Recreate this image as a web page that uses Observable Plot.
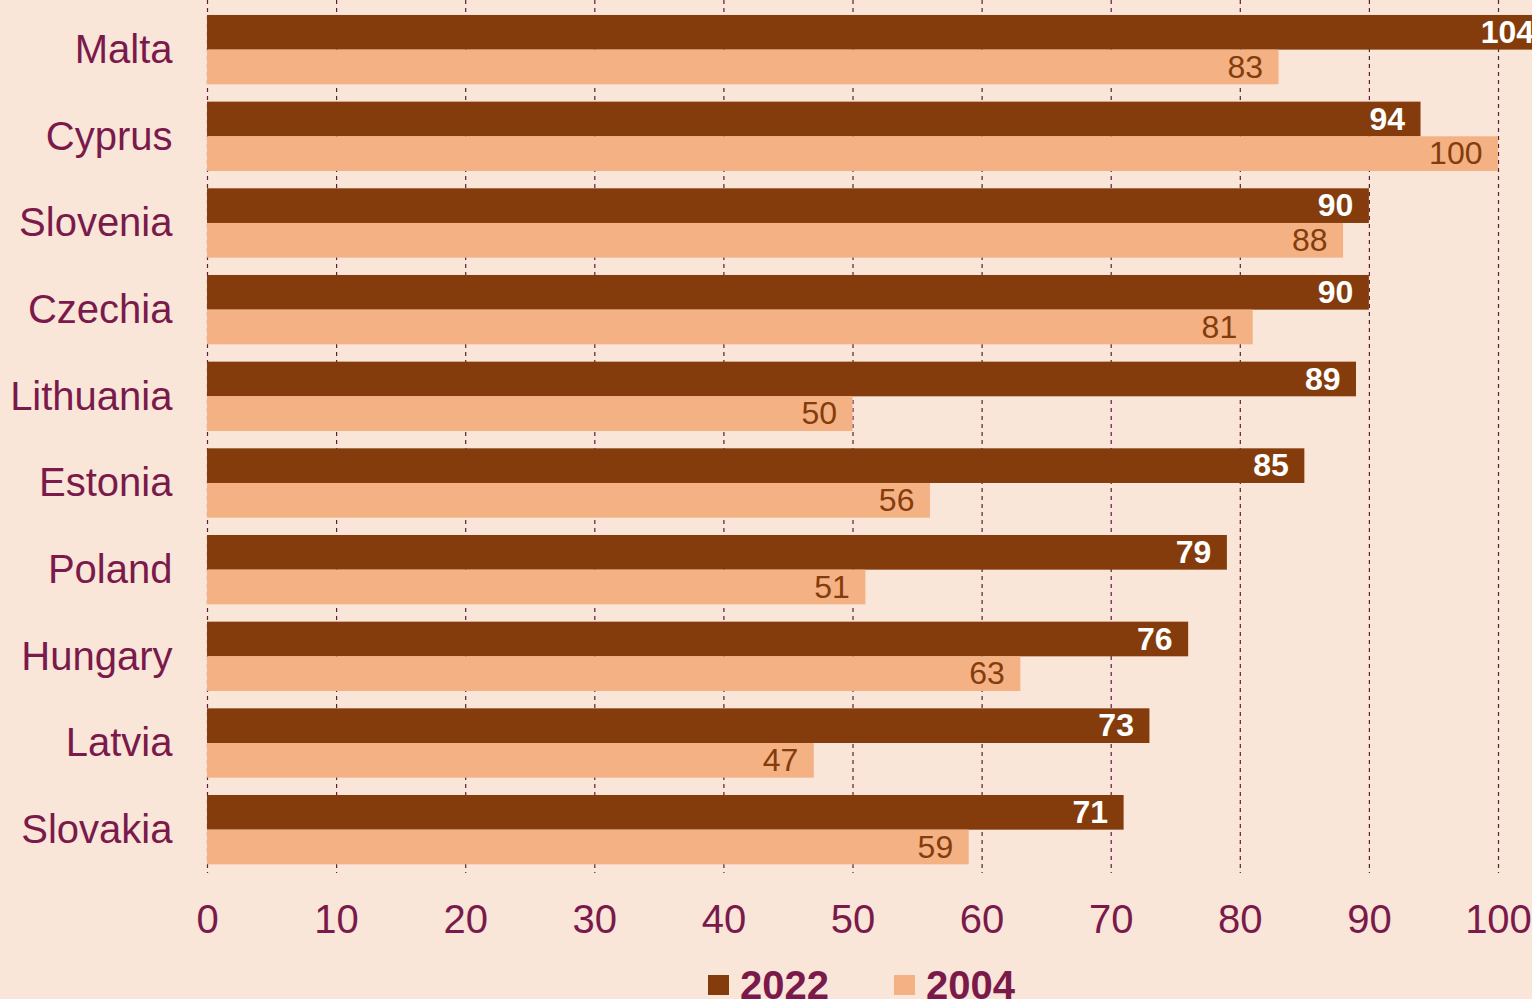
<!DOCTYPE html>
<html>
<head>
<meta charset="utf-8">
<script src="https://cdn.jsdelivr.net/npm/d3@7"></script>
<script src="https://cdn.jsdelivr.net/npm/@observablehq/plot@0.6"></script>
<style>
  html, body { margin: 0; padding: 0; background: #fae5d9; overflow: hidden; width: 1532px; height: 999px; }
  #legend { display: flex; align-items: center; margin-top: 5px; padding-left: 708px; height: 40px;
    font-family: "Liberation Sans", Arial, sans-serif; font-weight: bold; font-size: 40px; line-height: 40px; color: #7a1a4b; }
  #legend .sw { width: 21px; height: 20px; margin-right: 11px; }
  #legend .item { display: flex; align-items: center; margin-right: 65px; }
</style>
</head>
<body>
<div id="chart"></div>
<div id="legend"></div>
<script>
const countries = ["Malta","Cyprus","Slovenia","Czechia","Lithuania","Estonia","Poland","Hungary","Latvia","Slovakia"];
const values2022 = [104, 94, 90, 90, 89, 85, 79, 76, 73, 71];
const values2004 = [83, 100, 88, 81, 50, 56, 51, 63, 47, 59];
const xTicks = [0,10,20,30,40,50,60,70,80,90,100];
const seriesNames = ["2022", "2004"];
const seriesColors = ["#843c0c", "#f4b183"];

const d2022 = countries.map((c, i) => ({country: c, value: values2022[i]}));
const d2004 = countries.map((c, i) => ({country: c, value: values2004[i]}));

const H = 960;
const yRange = [6.3, 873];
const step = (yRange[1] - yRange[0]) / 10;
const bw = step * 0.8;
const half = bw / 2;

const chart = Plot.plot({
  width: 1532,
  height: H,
  marginLeft: 207,
  marginRight: 34,
  marginTop: 0,
  marginBottom: H - yRange[1],
  style: {background: "transparent", color: "#7a1a4b", fontFamily: "'Liberation Sans', Arial, sans-serif"},
  x: {domain: [0, 100], ticks: xTicks},
  y: {domain: countries, range: yRange, paddingInner: 0.2, paddingOuter: 0.1, round: false},
  marks: [
    Plot.gridX(xTicks, {stroke: "#5a1f3a", strokeOpacity: 1, strokeWidth: 1.2, strokeDasharray: "4,4"}),
    Plot.barX(d2022, {x: "value", y: "country", fill: seriesColors[0], insetBottom: half}),
    Plot.barX(d2004, {x: "value", y: "country", fill: seriesColors[1], insetTop: half}),
    Plot.text(d2022, {x: "value", y: "country", text: d => String(d.value), textAnchor: "end", dx: -16, dy: -half / 2,
      fill: "white", fontWeight: "bold", fontSize: 32}),
    Plot.text(d2004, {x: "value", y: "country", text: d => String(d.value), textAnchor: "end", dx: -16, dy: half / 2,
      fill: "#843c0c", fontSize: 32}),
    Plot.axisX(xTicks, {tickSize: 0, tickPadding: 31, fontSize: 40, label: null}),
    Plot.axisY({tickSize: 0, tickPadding: 35, fontSize: 40, label: null})
  ]
});
document.getElementById("chart").appendChild(chart);

const legend = document.getElementById("legend");
seriesNames.forEach((name, i) => {
  const item = document.createElement("div");
  item.className = "item";
  const sw = document.createElement("div");
  sw.className = "sw";
  sw.style.background = seriesColors[i];
  const t = document.createElement("span");
  t.textContent = name;
  item.appendChild(sw);
  item.appendChild(t);
  legend.appendChild(item);
});
</script>
</body>
</html>
